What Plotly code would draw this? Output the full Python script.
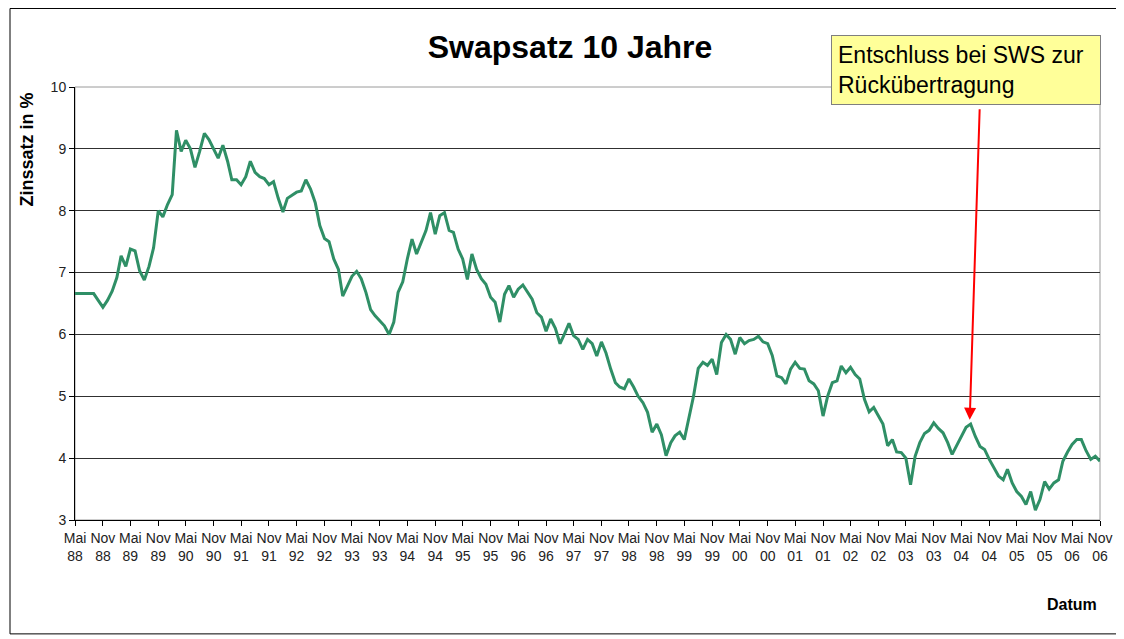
import pandas as pd
import plotly.graph_objects as go

# 10-jaehriger Swapsatz, Monatswerte ab Mai 1988 (in %), je Zeile ein Halbjahr
zinssatz = [
    6.66, 6.66, 6.66, 6.66, 6.66, 6.55,
    6.44, 6.55, 6.70, 6.92, 7.27, 7.10,
    7.38, 7.35, 7.03, 6.88, 7.10, 7.40,
    8.00, 7.90, 8.10, 8.26, 9.30, 8.96,
    9.14, 9.00, 8.70, 8.96, 9.25, 9.15,
    9.00, 8.85, 9.06, 8.80, 8.50, 8.50,
    8.42, 8.55, 8.80, 8.62, 8.55, 8.52,
    8.42, 8.47, 8.20, 7.98, 8.20, 8.25,
    8.30, 8.32, 8.50, 8.35, 8.13, 7.76,
    7.55, 7.50, 7.22, 7.05, 6.62, 6.78,
    6.94, 7.02, 6.90, 6.68, 6.40, 6.30,
    6.22, 6.14, 6.00, 6.20, 6.68, 6.85,
    7.22, 7.54, 7.30, 7.50, 7.68, 7.97,
    7.62, 7.92, 7.97, 7.68, 7.65, 7.38,
    7.22, 6.89, 7.30, 7.05, 6.90, 6.81,
    6.60, 6.52, 6.20, 6.65, 6.79, 6.60,
    6.73, 6.80, 6.68, 6.57, 6.35, 6.28,
    6.05, 6.25, 6.10, 5.85, 6.00, 6.18,
    5.98, 5.92, 5.76, 5.92, 5.85, 5.65,
    5.88, 5.70, 5.44, 5.22, 5.15, 5.12,
    5.28, 5.15, 5.00, 4.90, 4.74, 4.42,
    4.55, 4.38, 4.04, 4.25, 4.36, 4.42,
    4.30, 4.63, 5.00, 5.45, 5.55, 5.50,
    5.60, 5.35, 5.87, 6.00, 5.92, 5.68,
    5.95, 5.85, 5.90, 5.92, 5.97, 5.88,
    5.85, 5.66, 5.33, 5.30, 5.20, 5.44,
    5.55, 5.45, 5.44, 5.25, 5.20, 5.09,
    4.68, 5.00, 5.22, 5.25, 5.49, 5.38,
    5.47, 5.35, 5.28, 4.95, 4.75, 4.82,
    4.68, 4.55, 4.20, 4.30, 4.10, 4.09,
    4.00, 3.57, 4.03, 4.25, 4.40, 4.45,
    4.57, 4.48, 4.41, 4.25, 4.06, 4.20,
    4.36, 4.50, 4.55, 4.35, 4.19, 4.14,
    3.98, 3.85, 3.71, 3.65, 3.82, 3.60,
    3.46, 3.38, 3.25, 3.46, 3.16, 3.33,
    3.62, 3.50, 3.60, 3.65, 3.95, 4.10,
    4.22, 4.30, 4.30, 4.12, 3.98, 4.03,
    3.95,
]
monate = pd.date_range("1988-05-01", periods=len(zinssatz), freq="MS")

jahre = list(range(1988, 2007))
tick_datum = []
tick_text = []
for j in jahre:
    tick_datum += [f"{j}-05-01", f"{j}-11-01"]
    tick_text += [f"Mai<br>{str(j)[2:]}", f"Nov<br>{str(j)[2:]}"]

# Gitterlinien nur innen, oben liegt der graue Rahmen
gitter = [4, 5, 6, 7, 8, 9]

# Zeitpunkt des Entschlusses (Pfeilspitze)
entschluss_datum = "2004-06-25"
entschluss_wert = 4.62

schrift = "Liberation Sans, Arial, sans-serif"

fig = go.Figure()
fig.add_trace(go.Scatter(
    x=monate, y=zinssatz, mode="lines",
    line=dict(color="#2F8F66", width=3),
    showlegend=False,
))

# die Seite hat 8px Rand, daher etwas kleiner und nach links/oben verschoben
fig.update_layout(
    width=1116, height=631, autosize=False,
    margin=dict(l=67, r=24, t=79, b=119),
    paper_bgcolor="white", plot_bgcolor="white",
    font=dict(family=schrift, color="#222222"),
    title=dict(
        text="<b>Swapsatz 10 Jahre</b>",
        font=dict(size=32, color="black", family=schrift),
        x=0.5036, xanchor="center", y=0.938, yanchor="middle",
    ),
    xaxis=dict(
        type="date",
        range=["1988-05-01", "2006-11-01"],
        tickmode="array", tickvals=tick_datum, ticktext=tick_text,
        tickangle=0,
        ticks="outside", ticklen=5, tickcolor="black",
        showline=True, linecolor="black", linewidth=1,
        showgrid=False, zeroline=False,
        tickfont=dict(size=14, color="#222222"),
    ),
    yaxis=dict(
        range=[3, 10], dtick=1,
        ticks="outside", ticklen=5, tickcolor="black",
        showline=True, linecolor="black", linewidth=1,
        showgrid=False, zeroline=False,
        minor=dict(tickmode="array", tickvals=gitter, showgrid=True,
                   gridcolor="#303030", gridwidth=1, ticks=""),
        tickfont=dict(size=14, color="#222222"),
    ),
    shapes=[
        # grauer Rahmen der Zeichenflaeche
        dict(type="rect", xref="paper", yref="paper", x0=0, x1=1, y0=0, y1=1,
             line=dict(color="#9A9A9A", width=1), layer="below"),
        # schwarzer Rahmen des Diagramms
        dict(type="rect", xref="paper", yref="paper",
             x0=-0.0634, x1=1.0176, y0=-0.263, y1=1.1813,
             line=dict(color="black", width=1)),
    ],
    annotations=[
        dict(text="<b>Zinssatz in %</b>", xref="paper", yref="paper",
             x=-0.047, y=0.855, xanchor="center", yanchor="middle",
             textangle=-90, showarrow=False,
             font=dict(size=18, color="black")),
        dict(text="<b>Datum</b>", xref="paper", yref="paper",
             x=0.9727, y=-0.196, xanchor="center", yanchor="middle",
             showarrow=False, font=dict(size=16, color="black")),
        dict(text="", x=entschluss_datum, y=entschluss_wert,
             xref="x", yref="y", showarrow=True,
             ax=10, ay=-312, arrowhead=2, arrowsize=1.2, arrowwidth=2,
             arrowcolor="#FF0000"),
        dict(text="Entschluss bei SWS zur<br>Rückübertragung",
             xref="paper", yref="paper", x=0.7373, y=1.1201,
             xanchor="left", yanchor="top", align="left", showarrow=False,
             width=256, bgcolor="#FFFF99", bordercolor="#7F7F7F",
             borderwidth=1, borderpad=6, font=dict(size=23, color="black")),
    ],
)

fig.write_html("out.html")
